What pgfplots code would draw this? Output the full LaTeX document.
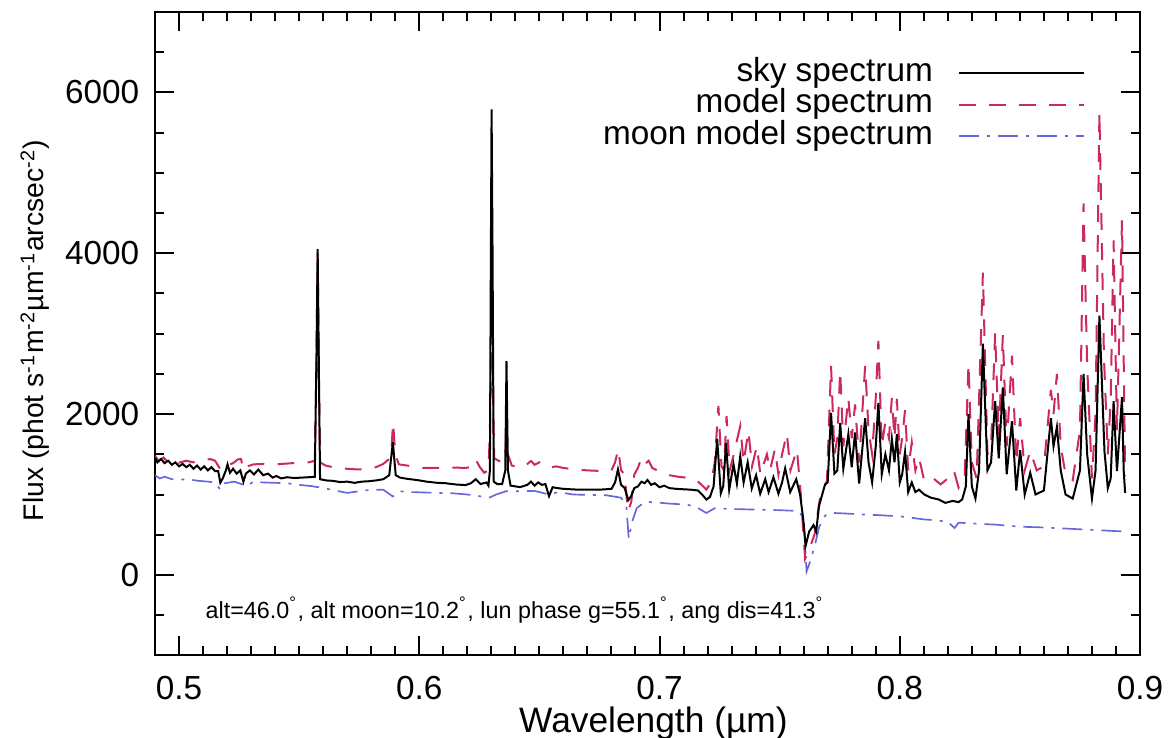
\documentclass[border=0pt]{standalone}
\usepackage{fontspec}
\setmainfont{Liberation Sans}
\usepackage{pgfplots}
\usepackage{pgfplotstable}
\pgfplotsset{compat=1.18}
\usetikzlibrary{calc}

\definecolor{modelred}{RGB}{204,41,92}
\definecolor{moonblue}{RGB}{102,102,221}

% sky spectrum (black)
\pgfplotstableread{
x y
0.4900 1460
0.4910 1400
0.4925 1440
0.4940 1390
0.4955 1420
0.4970 1370
0.4985 1400
0.5000 1350
0.5015 1380
0.5030 1340
0.5045 1370
0.5060 1320
0.5075 1360
0.5090 1310
0.5105 1350
0.5120 1300
0.5135 1340
0.5150 1290
0.5163 1290
0.5172 1146
0.5182 1200
0.5195 1300
0.5202 1375
0.5212 1270
0.5225 1320
0.5240 1260
0.5255 1300
0.5268 1160
0.5278 1260
0.5295 1300
0.5312 1250
0.5330 1310
0.5350 1240
0.5370 1260
0.5390 1210
0.5405 1230
0.5425 1200
0.5450 1215
0.5478 1205
0.5510 1210
0.5540 1215
0.5565 1220
0.5572 2700
0.5577 4050
0.5582 2600
0.5587 1190
0.5612 1175
0.5640 1170
0.5670 1155
0.5700 1160
0.5731 1145
0.5760 1160
0.5790 1165
0.5820 1175
0.5850 1190
0.5875 1240
0.5890 1650
0.5902 1240
0.5920 1210
0.5950 1195
0.5990 1180
0.6030 1160
0.6073 1146
0.6110 1140
0.6150 1125
0.6192 1117
0.6215 1140
0.6235 1190
0.6255 1130
0.6280 1150
0.6288 1110
0.6294 1300
0.6298 4000
0.6301 5790
0.6305 4000
0.6310 1160
0.6325 1130
0.6345 1130
0.6358 1300
0.6363 2660
0.6369 1300
0.6380 1110
0.6420 1092
0.6450 1120
0.6465 1160
0.6480 1110
0.6495 1150
0.6510 1120
0.6525 1130
0.6540 979
0.6555 1090
0.6575 1080
0.6600 1070
0.6650 1062
0.6700 1062
0.6760 1062
0.6800 1070
0.6815 1150
0.6827 1312
0.6840 1120
0.6855 1080
0.6870 930
0.6882 980
0.6895 1080
0.6910 1100
0.6925 1160
0.6938 1140
0.6950 1180
0.6965 1120
0.6980 1140
0.7000 1090
0.7020 1110
0.7040 1080
0.7070 1070
0.7100 1065
0.7130 1060
0.7160 1050
0.7180 990
0.7195 937
0.7210 970
0.7225 1100
0.7240 1690
0.7255 1015
0.7265 1100
0.7277 1640
0.7290 1060
0.7308 1375
0.7322 1135
0.7336 1475
0.7350 1150
0.7367 1400
0.7384 1075
0.7402 1240
0.7419 1010
0.7440 1190
0.7454 1030
0.7474 1215
0.7495 1010
0.7510 1150
0.7523 1325
0.7544 1030
0.7569 1190
0.7585 1000
0.7598 700
0.7608 360
0.7623 540
0.7641 620
0.7652 540
0.7664 860
0.7689 1125
0.7700 1150
0.7714 2015
0.7728 1260
0.7740 1300
0.7752 1890
0.7765 1320
0.7786 1750
0.7800 1340
0.7814 1770
0.7831 1135
0.7842 1500
0.7856 1950
0.7870 1400
0.7885 1150
0.7900 1600
0.7911 2140
0.7925 1250
0.7940 1500
0.7955 1300
0.7967 1690
0.7978 1400
0.7988 1750
0.8000 1150
0.8010 1250
0.8022 1530
0.8035 1030
0.8050 1150
0.8065 1030
0.8080 1060
0.8102 1000
0.8130 960
0.8160 940
0.8190 896
0.8220 920
0.8245 905
0.8260 940
0.8275 1100
0.8286 2000
0.8300 1100
0.8315 950
0.8330 1300
0.8346 2875
0.8365 1300
0.8380 1400
0.8397 2160
0.8412 1450
0.8429 2330
0.8445 1250
0.8467 1910
0.8485 1050
0.8501 1550
0.8520 1000
0.8543 1270
0.8565 1000
0.8600 1050
0.8629 1950
0.8640 1600
0.8654 1840
0.8670 1300
0.8690 1000
0.8720 950
0.8750 1300
0.8765 2500
0.8780 1500
0.8800 950
0.8815 1300
0.8831 3225
0.8852 1540
0.8866 1080
0.8878 1200
0.8890 2160
0.8904 1290
0.8925 2210
0.8932 1300
0.8938 1020
}\skydata

% model spectrum (red dashed)
\pgfplotstableread{
x y
0.4900 1480
0.4915 1420
0.4935 1460
0.4955 1400
0.4975 1430
0.5000 1396
0.5030 1420
0.5060 1400
0.5100 1430
0.5130 1440
0.5150 1420
0.5168 1333
0.5180 1300
0.5200 1360
0.5225 1390
0.5245 1437
0.5258 1440
0.5268 1300
0.5285 1350
0.5310 1375
0.5350 1380
0.5400 1375
0.5450 1385
0.5500 1396
0.5540 1400
0.5565 1420
0.5572 2600
0.5577 4000
0.5582 2500
0.5587 1400
0.5610 1360
0.5650 1333
0.5700 1320
0.5740 1312
0.5780 1310
0.5820 1340
0.5850 1380
0.5870 1430
0.5885 1600
0.5891 1896
0.5900 1500
0.5915 1375
0.5950 1360
0.6000 1333
0.6050 1330
0.6100 1333
0.6150 1335
0.6190 1330
0.6215 1340
0.6235 1437
0.6250 1350
0.6270 1271
0.6288 1300
0.6294 1800
0.6298 2600
0.6301 3000
0.6305 2500
0.6312 1450
0.6330 1420
0.6345 1400
0.6358 1500
0.6363 1900
0.6369 1500
0.6385 1360
0.6420 1333
0.6450 1380
0.6465 1417
0.6480 1370
0.6500 1400
0.6520 1360
0.6540 1333
0.6570 1350
0.6600 1330
0.6650 1310
0.6700 1300
0.6760 1292
0.6800 1300
0.6815 1400
0.6828 1562
0.6840 1300
0.6855 1250
0.6868 792
0.6882 900
0.6895 1250
0.6910 1330
0.6925 1458
0.6940 1380
0.6955 1420
0.6970 1330
0.6990 1300
0.7010 1270
0.7040 1240
0.7080 1220
0.7115 1208
0.7150 1190
0.7175 1120
0.7195 1062
0.7215 1150
0.7230 1400
0.7245 2100
0.7258 1350
0.7268 1300
0.7279 1975
0.7292 1300
0.7305 1450
0.7336 1850
0.7350 1400
0.7370 1790
0.7385 1350
0.7405 1600
0.7420 1250
0.7447 1500
0.7460 1300
0.7480 1560
0.7495 1250
0.7510 1500
0.7530 1760
0.7545 1300
0.7572 1560
0.7588 1000
0.7606 200
0.7627 350
0.7645 500
0.7669 980
0.7697 1170
0.7714 2600
0.7728 1500
0.7740 1700
0.7752 2540
0.7765 1600
0.7786 2200
0.7800 1700
0.7814 2120
0.7831 1400
0.7856 2600
0.7870 1800
0.7885 1500
0.7900 2200
0.7911 2910
0.7925 1600
0.7940 1900
0.7955 1700
0.7967 2200
0.7978 1700
0.7988 2190
0.8000 1500
0.8010 1700
0.8022 2050
0.8035 1300
0.8050 1650
0.8065 1300
0.8080 1460
0.8102 1167
0.8140 1200
0.8170 1125
0.8200 1200
0.8225 1300
0.8245 1083
0.8270 1200
0.8286 2625
0.8300 1400
0.8320 1200
0.8346 3760
0.8365 1500
0.8380 1600
0.8397 3010
0.8412 1700
0.8429 2980
0.8445 1600
0.8467 2725
0.8485 1400
0.8501 1950
0.8520 1300
0.8543 1540
0.8570 1300
0.8600 1350
0.8629 2300
0.8640 2000
0.8654 2500
0.8670 1600
0.8690 1250
0.8720 1180
0.8750 1800
0.8765 4620
0.8780 2600
0.8800 1200
0.8815 2000
0.8831 5750
0.8850 2700
0.8866 1500
0.8878 2200
0.8890 4160
0.8904 1800
0.8925 4410
0.8938 1230
}\modeldata

% moon model spectrum (blue dash-dot)
\pgfplotstableread{
x y
0.4900 1240
0.4920 1200
0.4940 1220
0.4970 1190
0.5000 1185
0.5040 1190
0.5080 1170
0.5120 1160
0.5150 1150
0.5172 1060
0.5190 1140
0.5230 1160
0.5260 1130
0.5280 1100
0.5310 1160
0.5350 1150
0.5400 1145
0.5450 1140
0.5500 1120
0.5550 1105
0.5600 1080
0.5650 1050
0.5700 1020
0.5750 1040
0.5800 1060
0.5850 1060
0.5890 975
0.5920 1040
0.5970 1030
0.6020 1025
0.6080 1020
0.6140 1015
0.6200 1000
0.6250 980
0.6287 955
0.6320 1000
0.6360 1040
0.6420 1040
0.6480 1045
0.6540 1000
0.6580 1030
0.6640 1000
0.6700 995
0.6780 990
0.6840 960
0.6862 850
0.6872 450
0.6885 650
0.6905 830
0.6940 910
0.6990 900
0.7050 885
0.7110 875
0.7150 850
0.7195 770
0.7230 830
0.7300 820
0.7400 812
0.7500 805
0.7580 795
0.7600 700
0.7612 42
0.7625 150
0.7645 350
0.7665 600
0.7690 740
0.7720 771
0.7800 760
0.7850 750
0.7900 745
0.8000 729
0.8050 710
0.8100 690
0.8150 680
0.8200 660
0.8228 583
0.8245 650
0.8300 640
0.8400 625
0.8500 600
0.8600 590
0.8700 575
0.8800 560
0.8900 545
0.8945 540
}\moondata

\begin{document}
\begin{tikzpicture}
\begin{axis}[
    scale only axis,
    width=295.5pt, height=193pt,
    xmin=0.49, xmax=0.9,
    ymin=-1000, ymax=7000,
    xtick={0.5,0.6,0.7,0.8,0.9},
    minor xtick={0.49,0.50,...,0.9},
    ytick={0,2000,4000,6000},
    minor ytick={-500,0,...,7000},
    tick align=inside,
    major tick length=5.7pt,
    minor tick length=2.7pt,
    major tick style={line width=0.6pt, black},
    minor tick style={line width=0.6pt, black},
    axis line style={line width=0.6pt},
    /pgf/number format/assume math mode=true,
    /pgf/number format/1000 sep={},
    ticklabel style={font=\fontsize{10}{12}\selectfont},
    xticklabel style={yshift=-2.7pt},
    yticklabel style={xshift=-1.2pt},
    xlabel={Wavelength (µm)},
    ylabel={Flux (phot s\textsuperscript{-1}m\textsuperscript{-2}µm\textsuperscript{-1}arcsec\textsuperscript{-2})},
    xlabel style={font=\fontsize{10.6}{12}\selectfont, at={(axis description cs:0.506,-0.062)}, anchor=north},
    ylabel style={font=\fontsize{8.5}{10}\selectfont, at={(axis description cs:-0.095,0.505)}, anchor=south},
    legend style={draw=none, fill=none, at={(axis description cs:0.944,0.930)},
        anchor=north east, inner sep=0pt, outer sep=0pt, row sep=0pt,
        nodes={inner sep=0pt, text height=7.2pt, text depth=2.3pt},
        font=\fontsize{10}{12}\selectfont},
    legend cell align=right,
    legend plot pos=right,
    legend image code/.code={\path (0pt,0pt); \draw[#1] (7.5pt,0pt) -- (45pt,0pt);},
    reverse legend,
]
\addplot[moonblue, line width=0.5pt, dash pattern=on 6pt off 2.4pt on 0.9pt off 2.4pt] table[x=x,y=y] {\moondata};
\addlegendentry{moon model spectrum}
\addplot[modelred, line width=0.6pt, dash pattern=on 5pt off 4pt] table[x=x,y=y] {\modeldata};
\addlegendentry{model spectrum}
\addplot[black, line width=0.6pt] table[x=x,y=y] {\skydata};
\addlegendentry{sky spectrum}
\node[anchor=west, font=\fontsize{7}{8}\selectfont, inner sep=0pt] at (axis cs:0.5108,-437)
  {alt=46.0\textsuperscript{°}, alt moon=10.2\textsuperscript{°}, lun phase g=55.1\textsuperscript{°}, ang dis=41.3\textsuperscript{°}};
\coordinate (ll) at (rel axis cs:0,0);
\coordinate (ur) at (rel axis cs:1,1);
\end{axis}
\pgfresetboundingbox
\path ($(ll)+(-46.5pt,-24.6pt)$) rectangle ($(ur)+(9pt,3.6pt)$);
\end{tikzpicture}
\end{document}
